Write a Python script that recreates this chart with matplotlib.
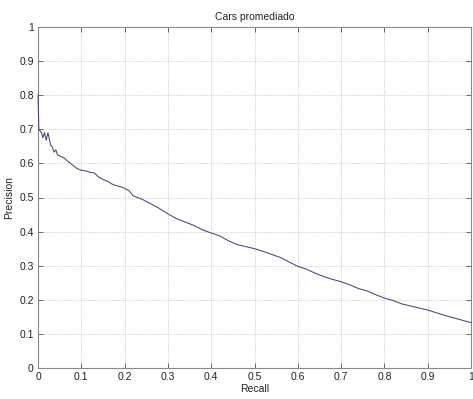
import matplotlib
matplotlib.use("Agg")
import matplotlib.pyplot as plt

plt.rcParams['font.family'] = ['Liberation Sans', 'DejaVu Sans']

title = "Cars promediado"
x_label = "Recall"
y_label = "Precision"

recall = [0.0, 0.0, 0.002, 0.008, 0.011, 0.015, 0.019, 0.023, 0.029, 0.033,
          0.037, 0.041, 0.045, 0.06, 0.07, 0.08, 0.09, 0.1, 0.11, 0.12,
          0.13, 0.14, 0.15, 0.16, 0.17, 0.18, 0.19, 0.2, 0.21, 0.22,
          0.24, 0.26, 0.28, 0.3, 0.32, 0.34, 0.36, 0.38, 0.4, 0.42,
          0.44, 0.46, 0.48, 0.5, 0.52, 0.54, 0.56, 0.58, 0.6, 0.62,
          0.64, 0.66, 0.68, 0.7, 0.72, 0.74, 0.76, 0.78, 0.8, 0.82,
          0.84, 0.86, 0.88, 0.9, 0.92, 0.94, 0.96, 0.98, 1.0]
precision = [0.80, 0.80, 0.70, 0.69, 0.675, 0.69, 0.668, 0.69, 0.654, 0.648,
             0.633, 0.64, 0.625, 0.616, 0.605, 0.595, 0.585, 0.58, 0.578, 0.574,
             0.572, 0.56, 0.553, 0.548, 0.54, 0.535, 0.532, 0.527, 0.52, 0.505,
             0.495, 0.482, 0.468, 0.452, 0.438, 0.428, 0.418, 0.405, 0.396, 0.387,
             0.373, 0.362, 0.356, 0.350, 0.342, 0.333, 0.324, 0.311, 0.298, 0.290,
             0.278, 0.268, 0.260, 0.253, 0.244, 0.233, 0.226, 0.215, 0.205, 0.198,
             0.188, 0.182, 0.176, 0.170, 0.162, 0.154, 0.147, 0.140, 0.133]

x_ticks = [0, 0.1, 0.2, 0.3, 0.4, 0.5, 0.6, 0.7, 0.8, 0.9, 1]
x_tick_labels = ["0", "0.1", "0.2", "0.3", "0.4", "0.5", "0.6", "0.7", "0.8", "0.9", "1"]
y_ticks = [0, 0.1, 0.2, 0.3, 0.4, 0.5, 0.6, 0.7, 0.8, 0.9, 1]
y_tick_labels = ["0", "0.1", "0.2", "0.3", "0.4", "0.5", "0.6", "0.7", "0.8", "0.9", "1"]

fig = plt.figure(figsize=(4.73, 3.99), dpi=100)
ax = fig.add_axes([38 / 473, 1 - 368 / 399, (471 - 38) / 473, (368 - 27) / 399])

ax.plot(recall, precision, color="#45457a", linewidth=0.75, clip_on=False, zorder=5)

ax.set_xlim(0, 1)
ax.set_ylim(0, 1)
ax.set_xticks(x_ticks)
ax.set_xticklabels(x_tick_labels)
ax.set_yticks(y_ticks)
ax.set_yticklabels(y_tick_labels)
ax.grid(True, linestyle=(0, (1, 1.2)), color="#c4c4c4", linewidth=0.6)
ax.tick_params(direction="in", length=3.5, width=0.7, color="#666666",
               labelsize=7.5, top=True, right=True, pad=3, labelcolor="#222222")
for s in ax.spines.values():
    s.set_color("#888888")
    s.set_linewidth(0.8)

ax.set_title(title, fontsize=7.5, pad=5, color="#222222")
ax.set_xlabel(x_label, fontsize=7.5, labelpad=1, color="#222222")
ax.set_ylabel(y_label, fontsize=7.5, labelpad=4, color="#222222")

fig.savefig("out.png", dpi=100)
